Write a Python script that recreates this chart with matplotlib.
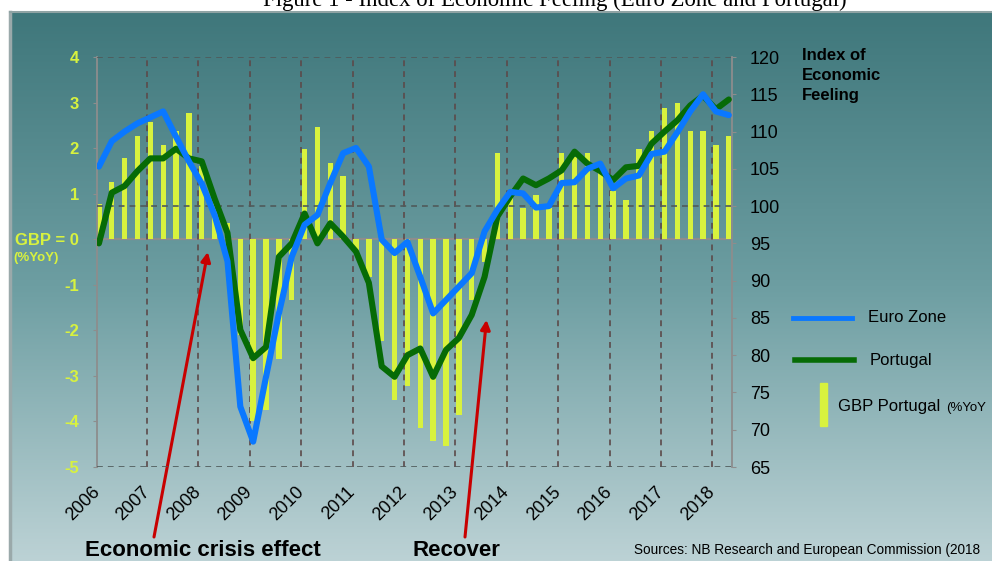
import numpy as np
import matplotlib
matplotlib.use('Agg')
import matplotlib.pyplot as plt
from matplotlib.lines import Line2D
from matplotlib.patches import Rectangle
from matplotlib.colors import LinearSegmentedColormap

plt.rcParams['font.family'] = ['Liberation Sans', 'DejaVu Sans']

# ---- data (quarterly, 2006Q1 .. 2018Q2) ----
quarters = list(range(50))
gbp_portugal = [0.78, 1.26, 1.78, 2.27, 2.57, 2.07, 2.38, 2.76, 1.60, 0.80,
                0.36, -2.10, -4.00, -3.74, -2.64, -1.33, 1.98, 2.47, 1.67, 1.38,
                -0.27, -0.82, -2.24, -3.52, -3.23, -4.14, -4.44, -4.55, -3.85, -1.33,
                -0.50, 1.89, 0.90, 0.68, 0.97, 0.68, 1.89, 1.81, 1.89, 1.55,
                1.06, 0.87, 1.98, 2.38, 2.87, 2.98, 2.38, 2.38, 2.07, 2.27]
euro_zone = [105.3, 108.7, 110.0, 111.1, 111.9, 112.7, 109.3, 106.0, 103.0, 98.8,
             92.6, 73.1, 68.4, 77.1, 85.6, 93.2, 97.5, 98.8, 103.1, 107.1,
             107.8, 105.3, 95.5, 93.7, 95.2, 90.5, 85.6, 87.4, 89.2, 91.0,
             96.6, 99.5, 101.9, 101.7, 99.8, 100.0, 103.1, 103.2, 105.0, 105.7,
             102.4, 103.7, 104.1, 107.0, 107.3, 109.9, 112.7, 115.0, 112.7, 112.2]
portugal = [95.0, 101.8, 102.7, 104.7, 106.4, 106.4, 107.7, 106.4, 106.0, 101.0,
            96.4, 83.4, 79.6, 81.1, 93.2, 95.0, 99.0, 95.0, 97.7, 95.9,
            93.9, 89.7, 78.5, 77.1, 80.0, 80.9, 77.1, 80.7, 82.3, 85.4,
            90.5, 98.6, 101.3, 103.7, 102.8, 103.7, 104.8, 107.3, 105.7, 104.7,
            103.5, 105.2, 105.4, 108.4, 110.0, 111.5, 113.5, 114.8, 113.0, 114.3]
year_labels = ['2006', '2007', '2008', '2009', '2010', '2011', '2012',
               '2013', '2014', '2015', '2016', '2017', '2018']
left_ticks = [-5, -4, -3, -2, -1, 0, 1, 2, 3, 4]
left_labels = ['-5', '-4', '-3', '-2', '-1', 'GBP = 0', '1', '2', '3', '4']
right_ticks = [65, 70, 75, 80, 85, 90, 95, 100, 105, 110, 115, 120]

W, H = 992, 561
def fx(x): return x / W
def fy(y): return 1 - y / H

YEL = '#d8f23e'
BLUE = '#0a78ff'
GREEN = '#066b06'

fig = plt.figure(figsize=(W / 100, H / 100), dpi=100)

# background gradient panel
bg = fig.add_axes([fx(10), 0, 1 - fx(10), fy(12)])
cmap = LinearSegmentedColormap.from_list('bgc', ['#3f777b', '#6d9ea2', '#bcd2d5'])
grad = np.linspace(0, 1, 256).reshape(-1, 1)
bg.imshow(grad, aspect='auto', cmap=cmap, extent=[0, 1, 0, 1], origin='upper')
bg.set_xlim(0, 1); bg.set_ylim(0, 1)
bg.axis('off')
fig.add_artist(Line2D([fx(10), fx(10)], [0, fy(12)], transform=fig.transFigure,
                      color='#9aa9aa', lw=2.5))
fig.add_artist(Line2D([fx(10), 1], [fy(12), fy(12)], transform=fig.transFigure,
                      color='#8fa3a4', lw=1.5))

# title (partially clipped at top, as in the source image)
fig.text(fx(555), fy(6), 'Figure 1 - Index of Economic Feeling (Euro Zone and Portugal)',
         ha='center', va='baseline', fontsize=16.4, family='Liberation Serif', color='black')

# main axes
ax = fig.add_axes([fx(97), fy(467), fx(732) - fx(97), (467 - 57) / H])
ax.patch.set_visible(False)
ax.set_xlim(-0.15, 49.25)
ax.set_ylim(-5, 4)
ax.bar(quarters, gbp_portugal, width=0.42, color=YEL, zorder=2)
ax.axhline(0, color='#8d8d8d', lw=1.6, zorder=1)
year_pos = [-0.15, 3.73, 7.73, 11.73, 15.73, 19.73, 23.73, 27.73, 31.73,
            35.73, 39.73, 43.73, 47.73]
for p in year_pos[1:]:
    ax.axvline(p, color='#5c4a4a', ls=(0, (3.5, 3)), lw=1.2, zorder=1.5)
for s in ['top', 'bottom', 'right']:
    ax.spines[s].set_visible(False)
ax.spines['left'].set_color('#8d8d8d')
ax.spines['left'].set_linewidth(1.3)
ax.set_yticks(left_ticks)
ax.set_yticklabels(left_labels, fontsize=12, fontweight='bold', color=YEL)
ax.tick_params(axis='y', colors='#8d8d8d', length=3, pad=10, labelcolor=YEL)
ax.set_xticks(year_pos)
ax.set_xticklabels(year_labels, rotation=45, ha='right', va='center',
                   rotation_mode='anchor', fontsize=13, color='black')
ax.tick_params(axis='x', length=0, pad=16)

ax2 = ax.twinx()
ax2.set_ylim(65, 120)
ax2.patch.set_visible(False)
for v in [65, 100, 120]:
    ax2.axhline(v, color='#4f5a5a', ls=(0, (3.5, 3)), lw=1.2, zorder=1)
ax2.plot(quarters, portugal, color=GREEN, lw=4.4, zorder=3, solid_capstyle='round')
ax2.plot(quarters, euro_zone, color=BLUE, lw=4.4, zorder=4, solid_capstyle='round')
for s in ['top', 'bottom', 'left']:
    ax2.spines[s].set_visible(False)
ax2.spines['right'].set_color('#8d8d8d')
ax2.spines['right'].set_linewidth(1.3)
ax2.set_yticks(right_ticks)
ax2.set_yticklabels([str(t) for t in right_ticks], fontsize=13, color='black')
ax2.tick_params(axis='y', colors='#8d8d8d', length=3, pad=10, labelcolor='black')

# extra texts
fig.text(fx(13), fy(258), '(%YoY)', fontsize=9.5, fontweight='bold', color=YEL,
         ha='left', va='center')
fig.text(fx(802), fy(48), 'Index of\nEconomic\nFeeling', fontsize=12, fontweight='bold',
         color='black', ha='left', va='top', linespacing=1.4)

# legend (manual)
fig.add_artist(Line2D([fx(793), fx(852)], [fy(318), fy(318)], transform=fig.transFigure,
                      color=BLUE, lw=3.5))
fig.text(fx(868), fy(318), 'Euro Zone', fontsize=12, color='black', ha='left', va='center')
fig.add_artist(Line2D([fx(795), fx(854)], [fy(360), fy(360)], transform=fig.transFigure,
                      color=GREEN, lw=4))
fig.text(fx(870), fy(360), 'Portugal', fontsize=12, color='black', ha='left', va='center')
fig.add_artist(Rectangle((fx(820), fy(426)), fx(7), (426 - 383) / H,
                         transform=fig.transFigure, color=YEL))
fig.text(fx(838), fy(407), 'GBP Portugal', fontsize=12, color='black', ha='left', va='center')
fig.text(fx(946), fy(408), '(%YoY', fontsize=9.5, color='black', ha='left', va='center')

# bottom annotations
fig.text(fx(85), fy(550), 'Economic crisis effect', fontsize=16, fontweight='bold',
         color='black', ha='left', va='center')
fig.text(fx(412), fy(550), 'Recover', fontsize=16, fontweight='bold',
         color='black', ha='left', va='center')
fig.text(fx(634), fy(550), 'Sources: NB Research and European Commission (2018',
         fontsize=9.8, color='black', ha='left', va='center')

for tip, tail in [((8.47, -0.28), (154, H - 537)), ((30.15, -1.77), (465, H - 537))]:
    ax.annotate('', xy=tip, xycoords='data', xytext=tail, textcoords='figure pixels',
                arrowprops=dict(arrowstyle='-|>', color='#c80000', lw=2.2,
                                mutation_scale=14, shrinkA=0, shrinkB=0),
                annotation_clip=False, zorder=6)

fig.savefig('out.png', dpi=100)
